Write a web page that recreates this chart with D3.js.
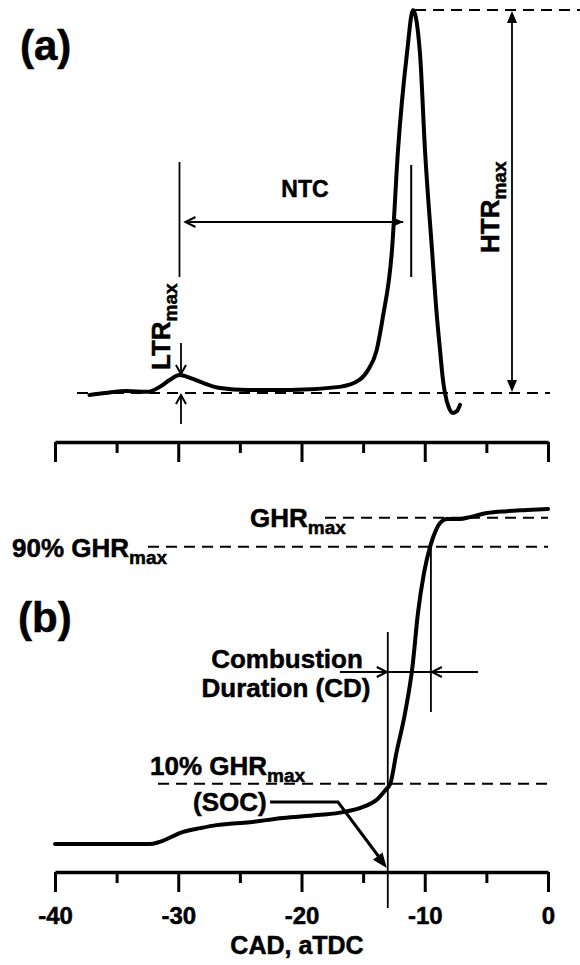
<!DOCTYPE html>
<html lang="en">
<head>
<meta charset="utf-8">
<title>HRR / GHR schematic</title>
<script src="https://d3js.org/d3.v7.min.js"></script>
<style>
    body { margin: 0; background: #fff; }
    svg { display: block; }
    text { font-family: "Liberation Sans", Arial, Helvetica, sans-serif; font-weight: bold; fill: #000; stroke: #000; stroke-width: 0.5px; }
</style>
</head>
<body>
<svg id="chart" width="580" height="965"></svg>
<script>
// panel (a): heat release rate, arbitrary units (baseline 0, HTR peak 100)
const cadA = [-37.2, -35.9, -34.2, -32.5, -31.5, -30.7, -29.9, -29.0, -28.2, -26.6, -24.4, -20.9, -16.9,
              -15.3, -14.6, -13.9, -13.4, -12.66, -12.17, -11.44, -10.95, -10.39, -9.98, -9.41, -9.01,
              -8.76, -8.52, -8.36, -8.03, -7.71, -7.38, -7.14];
const hrrA = [-0.5, 0, 0.5, 0.3, 1.6, 3.4, 4.7, 3.9, 2.9, 1.3, 0.8, 0.8, 1.6,
              3.4, 6.0, 11.2, 19.8, 37.3, 63.4, 88.8, 100, 88.8, 63.4, 37.3, 19.8,
              11.2, 3.4, 0, -3.9, -5.2, -4.7, -3.1];

// panel (b): gross heat release, arbitrary units
const cadB = [-40, -32.3, -31.5, -29.6, -28.2, -26.9, -24.2, -21.5, -18.7, -16.6, -15.0, -13.9, -13.2,
              -12.8, -12.3, -11.6, -11.0, -10.55, -10.06, -9.57, -9.09, -8.76, -8.2, -7.14, -6.33,
              -4.95, -3.33, -1.7, 0];
const ghrB = [7.5, 7.5, 8.1, 10.8, 11.8, 12.6, 13.4, 14.5, 15.3, 16.1, 17.5, 19.4, 22.0,
              23.7, 32.0, 42.7, 55.1, 69.6, 80.4, 87.4, 91.9, 93.8, 94.9, 94.9, 95.4,
              96.5, 97.0, 97.3, 97.6];

const majorTicks = [-40, -30, -20, -10, 0];
const minorTicks = [-35, -25, -15, -5];

// marker positions (CAD) and levels
const ltrCad = -29.9;
const ntcEndCad = -11.1;
const socCad = -13.0;
const cdEndCad = -9.5;
const htrLevel = 100, baseLevel = 0;
const ghrMaxLevel = 95.2, ghr90Level = 87.4, ghr10Level = 23.7;

const svg = d3.select("#chart");

const x = d3.scaleLinear().domain([-40, 0]).range([55, 548]);
const yA = d3.scaleLinear().domain([0, 100]).range([393, 10]);
const yB = d3.scaleLinear().domain([0, 100]).range([872, 500]);

// helper: arrow head at (tx,ty) pointing along (dx,dy)
function arrowHead(g, tx, ty, dx, dy, len, hw, filled) {
    const n = Math.hypot(dx, dy); dx /= n; dy /= n;
    const bx = tx - dx * len, by = ty - dy * len;
    const px = -dy * hw, py = dx * hw;
    if (filled) {
        g.append("path")
            .attr("d", `M${tx},${ty}L${bx + px},${by + py}L${bx - px},${by - py}Z`)
            .attr("fill", "#000");
    } else {
        g.append("path")
            .attr("d", `M${bx + px},${by + py}L${tx},${ty}L${bx - px},${by - py}`)
            .attr("fill", "none").attr("stroke", "#000").attr("stroke-width", 2);
    }
}

function line(g, x1, y1, x2, y2, w, dash) {
    const l = g.append("line").attr("x1", x1).attr("y1", y1).attr("x2", x2).attr("y2", y2)
        .attr("stroke", "#000").attr("stroke-width", w);
    if (dash) l.attr("stroke-dasharray", dash);
    return l;
}

// axes
function drawAxis(yPos, labels) {
    const major = svg.append("g").attr("transform", `translate(0,${yPos})`)
        .call(d3.axisBottom(x).tickValues(majorTicks).tickSize(20).tickSizeOuter(0)
            .tickFormat(labels ? (d => String(d)) : ""));
    major.select(".domain").attr("stroke-width", 3.5);
    major.selectAll(".tick line").attr("stroke-width", 3);
    if (labels) {
        major.selectAll(".tick text").attr("y", 35).attr("font-size", 24)
            .attr("font-family", "'Liberation Sans', Arial, sans-serif").attr("font-weight", "bold");
    } else {
        major.selectAll(".tick text").remove();
    }
    const minor = svg.append("g").attr("transform", `translate(0,${yPos})`)
        .call(d3.axisBottom(x).tickValues(minorTicks).tickSize(11).tickSizeOuter(0).tickFormat(""));
    minor.select(".domain").remove();
    minor.selectAll(".tick text").remove();
    minor.selectAll(".tick line").attr("stroke-width", 3);
}
drawAxis(442, false);
drawAxis(yB(0), true);

svg.append("text").attr("x", 297).attr("y", 954).attr("text-anchor", "middle")
    .attr("font-size", 25).text("CAD, aTDC");

// ---------- panel (a) ----------
const ga = svg.append("g");
ga.append("text").attr("x", 20).attr("y", 60).attr("font-size", 42).text("(a)");

// reference dashed lines
line(ga, 415, yA(htrLevel), 580, yA(htrLevel), 2, "11,7");
line(ga, 77, yA(baseLevel), 550, yA(baseLevel), 2, "11,7");

ga.append("path")
    .datum(cadA.map((c, i) => [c, hrrA[i]]))
    .attr("d", d3.line().x(d => x(d[0])).y(d => yA(d[1])).curve(d3.curveMonotoneX))
    .attr("fill", "none").attr("stroke", "#000").attr("stroke-width", 4)
    .attr("stroke-linejoin", "round").attr("stroke-linecap", "round");

// LTR marker
const xl = x(ltrCad);
line(ga, xl, 162, xl, 277, 1.8);
line(ga, xl + 1.5, 343, xl + 1.5, 374, 1.8);
arrowHead(ga, xl + 1.5, 374, 0, 1, 9, 5, false);
line(ga, xl + 1.5, 424, xl + 1.5, 395, 1.8);
arrowHead(ga, xl + 1.5, 395, 0, -1, 9, 5, false);
const ltr = ga.append("text").attr("transform", `translate(170,370) rotate(-90)`).attr("font-size", 26);
ltr.append("tspan").text("LTR");
ltr.append("tspan").attr("dy", 7).attr("font-size", 19).text("max");

// NTC
const xn = x(ntcEndCad);
line(ga, xn, 165, xn, 277, 2);
line(ga, xl + 6, 222, xn - 8, 222, 1.8);
arrowHead(ga, xl + 6, 222, -1, 0, 10, 5, false);
arrowHead(ga, xn - 8, 222, 1, 0, 11, 5, true);
ga.append("text").attr("x", 305).attr("y", 197).attr("text-anchor", "middle")
    .attr("font-size", 23).text("NTC");

// HTR
line(ga, 512, yA(htrLevel) + 10, 512, yA(baseLevel) - 10, 1.8);
arrowHead(ga, 512, yA(htrLevel) + 1, 0, -1, 12, 5, true);
arrowHead(ga, 512, yA(baseLevel) - 1, 0, 1, 12, 5, true);
const htr = ga.append("text").attr("transform", `translate(499,253) rotate(-90)`).attr("font-size", 26);
htr.append("tspan").text("HTR");
htr.append("tspan").attr("dy", 7).attr("font-size", 19).text("max");

// ---------- panel (b) ----------
const gb = svg.append("g");
gb.append("text").attr("x", 18).attr("y", 632).attr("font-size", 42).text("(b)");

line(gb, 325, yB(ghrMaxLevel), 548, yB(ghrMaxLevel), 2, "11,7");
line(gb, 148, yB(ghr90Level), 548, yB(ghr90Level), 2, "11,7");
line(gb, 158, yB(ghr10Level), 548, yB(ghr10Level), 2, "11,7");

function subLabel(g, tx, ty, main) {
    const t = g.append("text").attr("x", tx).attr("y", ty).attr("font-size", 26);
    t.append("tspan").text(main);
    t.append("tspan").attr("dy", 7).attr("font-size", 19).text("max");
}
subLabel(gb, 250, 527, "GHR");
subLabel(gb, 12, 557, "90% GHR");
subLabel(gb, 150, 775, "10% GHR");

// CD markers
const xs = x(socCad), xe = x(cdEndCad);
line(gb, xs, 632, xs, 908, 1.8);
line(gb, xe, yB(ghr90Level), xe, 712, 1.8);
line(gb, 340, 672, 478, 672, 1.8);
arrowHead(gb, xs - 1, 672, 1, 0, 10, 5, false);
arrowHead(gb, xe + 1, 672, -1, 0, 10, 5, false);

gb.append("path")
    .datum(cadB.map((c, i) => [c, ghrB[i]]))
    .attr("d", d3.line().x(d => x(d[0])).y(d => yB(d[1])).curve(d3.curveMonotoneX))
    .attr("fill", "none").attr("stroke", "#000").attr("stroke-width", 4)
    .attr("stroke-linejoin", "round").attr("stroke-linecap", "round");

gb.append("text").attr("x", 287).attr("y", 668).attr("text-anchor", "middle")
    .attr("font-size", 26).text("Combustion");
gb.append("text").attr("x", 286).attr("y", 697).attr("text-anchor", "middle")
    .attr("font-size", 26).text("Duration (CD)");

// SOC pointer
gb.append("text").attr("x", 193).attr("y", 811).attr("font-size", 26).text("(SOC)");
gb.append("path")
    .attr("d", `M270,802L338,802L${xs - 8},858`)
    .attr("fill", "none").attr("stroke", "#000").attr("stroke-width", 3);
arrowHead(gb, xs - 1, 868, 49, 65, 15, 6, true);
</script>
</body>
</html>
